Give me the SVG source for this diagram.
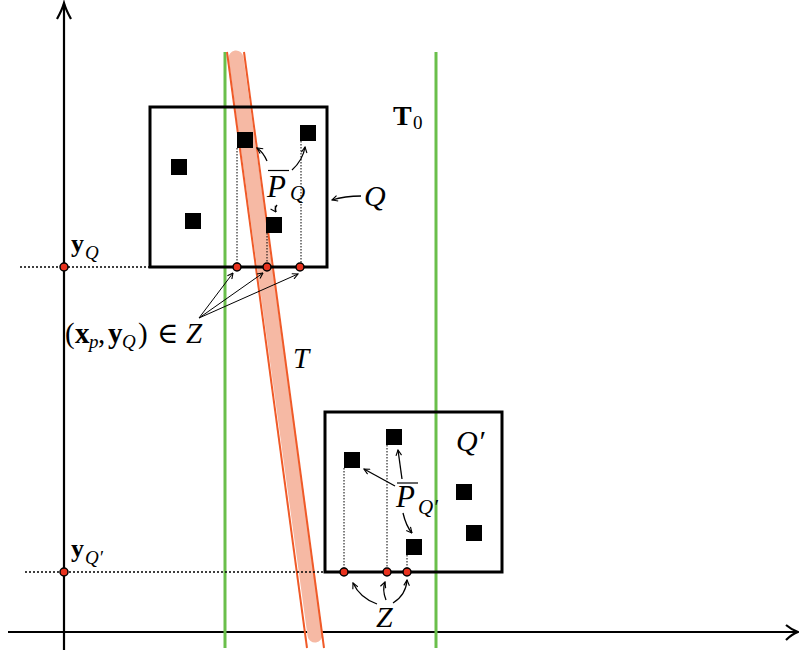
<svg xmlns="http://www.w3.org/2000/svg" width="799" height="653" viewBox="0 0 799 653">
<defs>
<style>
.axis{stroke:#000;stroke-width:2.2;fill:none}
.green{stroke:#6abf4b;stroke-width:3;fill:none}
.box{stroke:#000;stroke-width:3;fill:none}
.sq{fill:#000}
.dot{fill:#e8321e;stroke:#000;stroke-width:1.5}
.dotted{stroke:#000;stroke-width:1;stroke-dasharray:1.5 1.5;fill:none}
.hdotted{stroke:#000;stroke-width:1.6;stroke-dasharray:2 2;fill:none}
.edge{stroke:#f05a28;stroke-width:2;fill:none}
.arr{stroke:#000;stroke-width:1.3;fill:none;marker-end:url(#ah)}
.arrT{stroke:#000;stroke-width:1;fill:none;marker-end:url(#ah)}
.m{font-family:"Liberation Serif","DejaVu Serif",serif;fill:#000}
.it{font-style:italic}
.bf{font-weight:bold}
</style>
<marker id="ah" viewBox="0 0 10 10" refX="9" refY="5" markerWidth="7" markerHeight="7" orient="auto" markerUnits="userSpaceOnUse">
<path d="M1,1 L9,5 L1,9" fill="none" stroke="#000" stroke-width="1.6"/>
</marker>
</defs>

<g id="axes">
<line class="axis" x1="64" y1="650" x2="64" y2="4"/>
<path class="axis" d="M57,19 Q62,10 64,3 Q66,10 71,19"/>
<line class="axis" x1="8" y1="632" x2="797" y2="632"/>
<path class="axis" d="M786,625 Q792,630 798,632 Q792,634 786,640"/>
</g>

<g id="T0">
<line class="green" x1="225" y1="52" x2="225" y2="648"/>
<line class="green" x1="436" y1="52" x2="436" y2="648"/>
<text class="m bf" x="393" y="125" font-size="28">T</text>
<text class="m" x="413" y="129" font-size="19">0</text>
</g>

<g id="T">
<line x1="236" y1="58" x2="315" y2="635" stroke="#f6b9a4" stroke-width="15" stroke-linecap="round"/>
<line class="edge" x1="227" y1="52" x2="307" y2="648"/>
<line class="edge" x1="244" y1="52" x2="324" y2="648"/>
<text class="m it" x="293" y="368" font-size="29">T</text>
</g>

<g id="Q">
<rect class="box" x="150" y="107" width="177" height="160"/>
<rect class="sq" x="171" y="159" width="16" height="16"/>
<rect class="sq" x="185" y="213" width="16" height="16"/>
<rect class="sq" x="237" y="132" width="16" height="16"/>
<rect class="sq" x="300" y="125" width="16" height="16"/>
<rect class="sq" x="266" y="217" width="16" height="16"/>
<line class="dotted" x1="237" y1="148" x2="237" y2="267"/>
<line class="dotted" x1="267" y1="233" x2="267" y2="267"/>
<line class="dotted" x1="301" y1="141" x2="301" y2="267"/>
<text class="m it" x="364" y="206" font-size="30">Q</text>
<text class="m it" x="267" y="197" font-size="31">P</text>
<line x1="268" y1="170.5" x2="289" y2="170.5" stroke="#000" stroke-width="1.2"/>
<text class="m it" x="290" y="200" font-size="21">Q</text>
</g>

<g id="Qp">
<rect class="box" x="325" y="412" width="177" height="160"/>
<rect class="sq" x="344" y="452" width="16" height="16"/>
<rect class="sq" x="386" y="429" width="16" height="16"/>
<rect class="sq" x="406" y="539" width="16" height="16"/>
<rect class="sq" x="456" y="484" width="16" height="16"/>
<rect class="sq" x="466" y="525" width="16" height="16"/>
<line class="dotted" x1="344" y1="468" x2="344" y2="572"/>
<line class="dotted" x1="387" y1="445" x2="387" y2="572"/>
<line class="dotted" x1="407" y1="555" x2="407" y2="572"/>
<text class="m it" x="456" y="451" font-size="30">Q′</text>
<text class="m it" x="396" y="507" font-size="31">P</text>
<line x1="397" y1="483" x2="418" y2="483" stroke="#000" stroke-width="1.2"/>
<text class="m it" x="418" y="514" font-size="21">Q′</text>
</g>

<g id="yQ">
<line class="hdotted" x1="20" y1="267" x2="150" y2="267"/>
<text class="m bf" x="71" y="252" font-size="26">y</text>
<text class="m it" x="85" y="259" font-size="19">Q</text>
</g>

<g id="yQp">
<line class="hdotted" x1="25" y1="572" x2="325" y2="572"/>
<text class="m bf" x="71" y="557" font-size="26">y</text>
<text class="m it" x="85" y="564" font-size="19">Q′</text>
</g>

<g id="Zlabel1">
<text class="m" y="343" font-size="29"><tspan x="65">(</tspan><tspan class="bf" x="75">x</tspan><tspan class="it" x="89" y="348" font-size="19">p</tspan><tspan x="98" y="343">,</tspan><tspan class="bf" x="108">y</tspan><tspan class="it" x="122" y="348" font-size="19">Q</tspan><tspan x="138" y="343">)</tspan><tspan x="157">∈</tspan><tspan class="it" x="186">Z</tspan></text>
</g>

<g id="Zlabel2">
<text class="m it" x="376" y="627" font-size="30">Z</text>
</g>

<g id="connectors">
<path class="arr" d="M267,161 Q263,152 257,148"/>
<path class="arr" d="M292,170 Q303,160 305,147"/>
<path class="arr" d="M277,205 Q274,209 276,212"/>
<path class="arr" d="M361,196 Q345,196 332,200"/>
<path class="arrT" d="M199,318 L233,273"/>
<path class="arrT" d="M199,318 L263,273"/>
<path class="arrT" d="M199,318 L298,274"/>
<path class="arr" d="M395,486 L364,469"/>
<path class="arr" d="M402,479 L398,450"/>
<path class="arr" d="M403,513 Q406,526 412,533"/>
<path class="arr" d="M377,604 Q360,598 353,583"/>
<path class="arr" d="M386,600 Q382,590 385,582"/>
<path class="arr" d="M393,603 Q406,595 407,580"/>
</g>

<g id="dots">
<circle class="dot" cx="64" cy="267" r="4"/>
<circle class="dot" cx="64" cy="572" r="4"/>
<circle class="dot" cx="237" cy="267" r="4"/>
<circle class="dot" cx="267" cy="267" r="4"/>
<circle class="dot" cx="300" cy="267" r="4"/>
<circle class="dot" cx="344" cy="572" r="4"/>
<circle class="dot" cx="387" cy="572" r="4"/>
<circle class="dot" cx="407" cy="572" r="4"/>
</g>
</svg>
